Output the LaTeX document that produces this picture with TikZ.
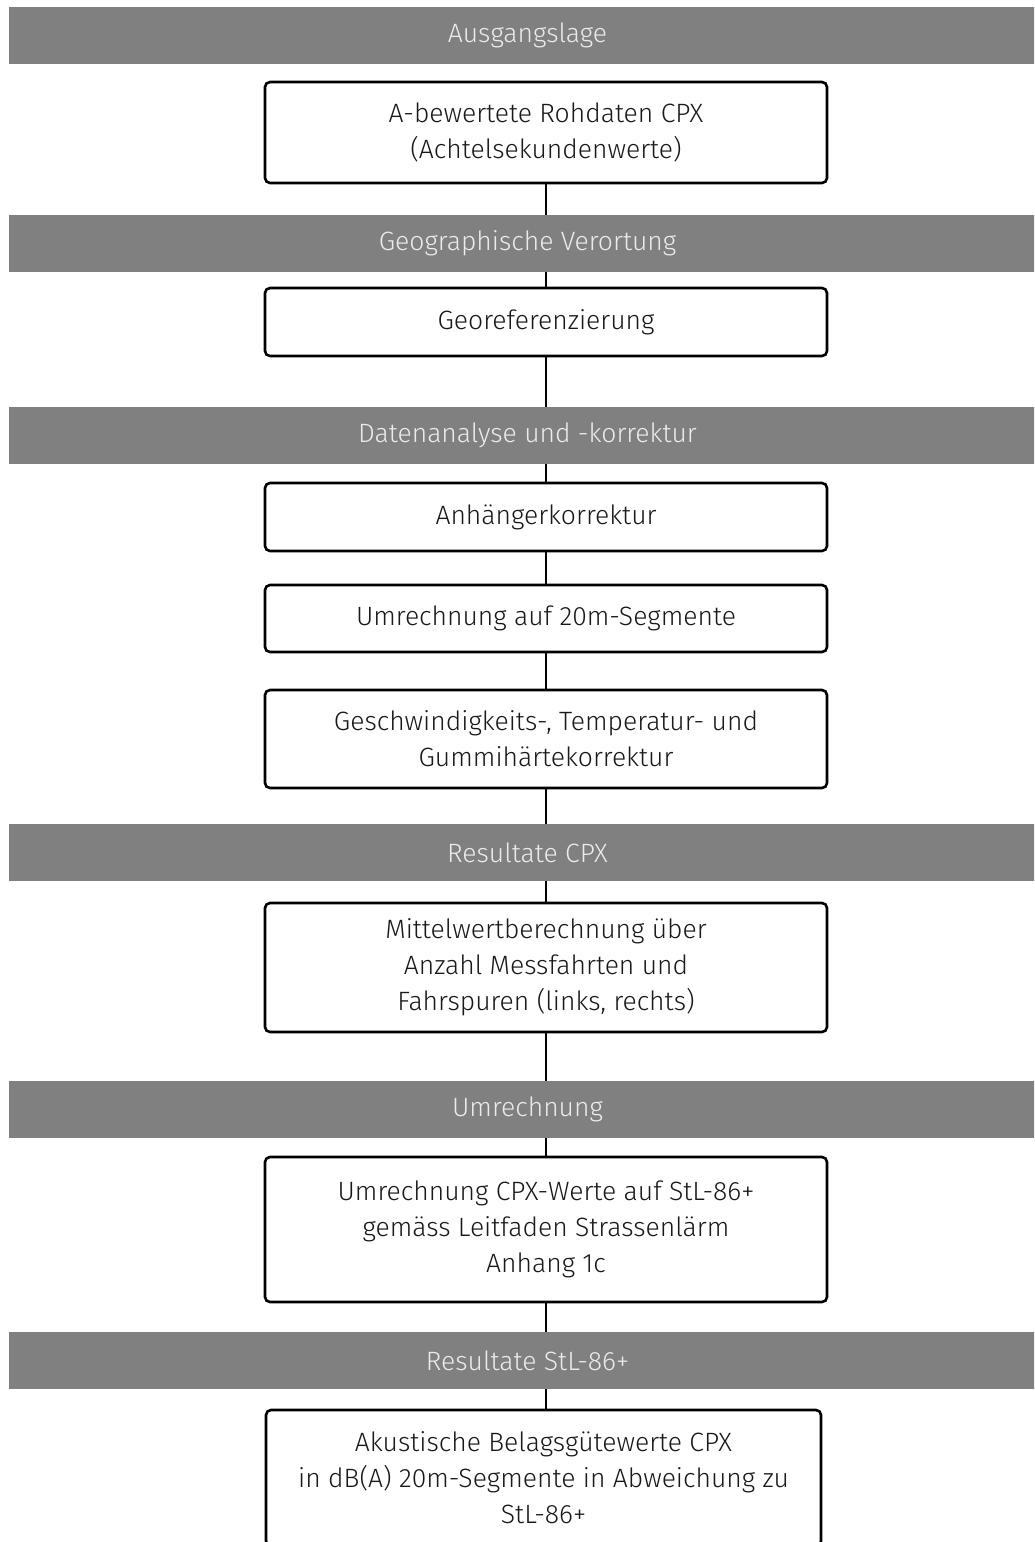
\documentclass[tikz,border=0pt]{standalone}
\usepackage{fontspec}
\setmainfont{Fira Sans}[UprightFont=* Light]
\begin{document}
\begin{tikzpicture}[x=1pt,y=-1pt,
  stepbox/.style={draw=black, line width=2.6pt, rounded corners=5pt, fill=white,
    minimum width=562pt, inner sep=0pt, align=center,
    font=\fontsize{26.5}{36}\selectfont, text=black!90},
  band/.style={fill=black!50, draw=none, minimum width=1037pt, minimum height=57pt,
    inner sep=0pt, font=\fontsize{26.5}{30}\selectfont, text=white!92!black},
  link/.style={draw=black, line width=2.2pt}]
\useasboundingbox (0,0) rectangle (1034,1542);
\clip (0,0) rectangle (1034,1542);
% boxes
\node[stepbox, minimum height=101pt] (b1) at (546,132.5) {A-bewertete Rohdaten CPX\\(Achtelsekundenwerte)};
\node[stepbox, minimum height=68pt] (b2) at (546,322) {Georeferenzierung};
\node[stepbox, minimum height=68pt] (b3) at (546,517) {Anhängerkorrektur};
\node[stepbox, minimum height=67pt] (b4) at (546,618.5) {Umrechnung auf 20m-Segmente};
\node[stepbox, minimum height=98pt] (b5) at (546,739) {Geschwindigkeits-, Temperatur- und\\Gummihärtekorrektur};
\node[stepbox, minimum height=129pt] (b6) at (546,967.5) {Mittelwertberechnung über\\Anzahl Messfahrten und\\Fahrspuren (links, rechts)};
\node[stepbox, minimum height=145pt] (b7) at (546,1229.5) {Umrechnung CPX-Werte auf StL-86+\\gemäss Leitfaden Strassenlärm\\Anhang 1c};
\node[stepbox, minimum height=136pt, minimum width=555pt] (b8) at (543.5,1478) {Akustische Belagsgütewerte CPX\\in dB(A) 20m-Segmente in Abweichung zu\\StL-86+};
% connectors
\draw[link] (b1) -- (b2);
\draw[link] (b2) -- (b3);
\draw[link] (b3) -- (b4);
\draw[link] (b4) -- (b5);
\draw[link] (b5) -- (b6);
\draw[link] (b6) -- (b7);
\draw[link] (b7.south) -- (b7.south |- b8.north);
% bands
\node[band] (h1) at (527.5,35) {Ausgangslage};
\node[band] (h2) at (527.5,243.5) {Geographische Verortung};
\node[band] (h3) at (527.5,435) {Datenanalyse und -korrektur};
\node[band] (h4) at (527.5,852.5) {Resultate CPX};
\node[band] (h5) at (527.5,1109.5) {Umrechnung};
\node[band] (h6) at (527.5,1360.5) {Resultate StL-86+};
\end{tikzpicture}
\end{document}
